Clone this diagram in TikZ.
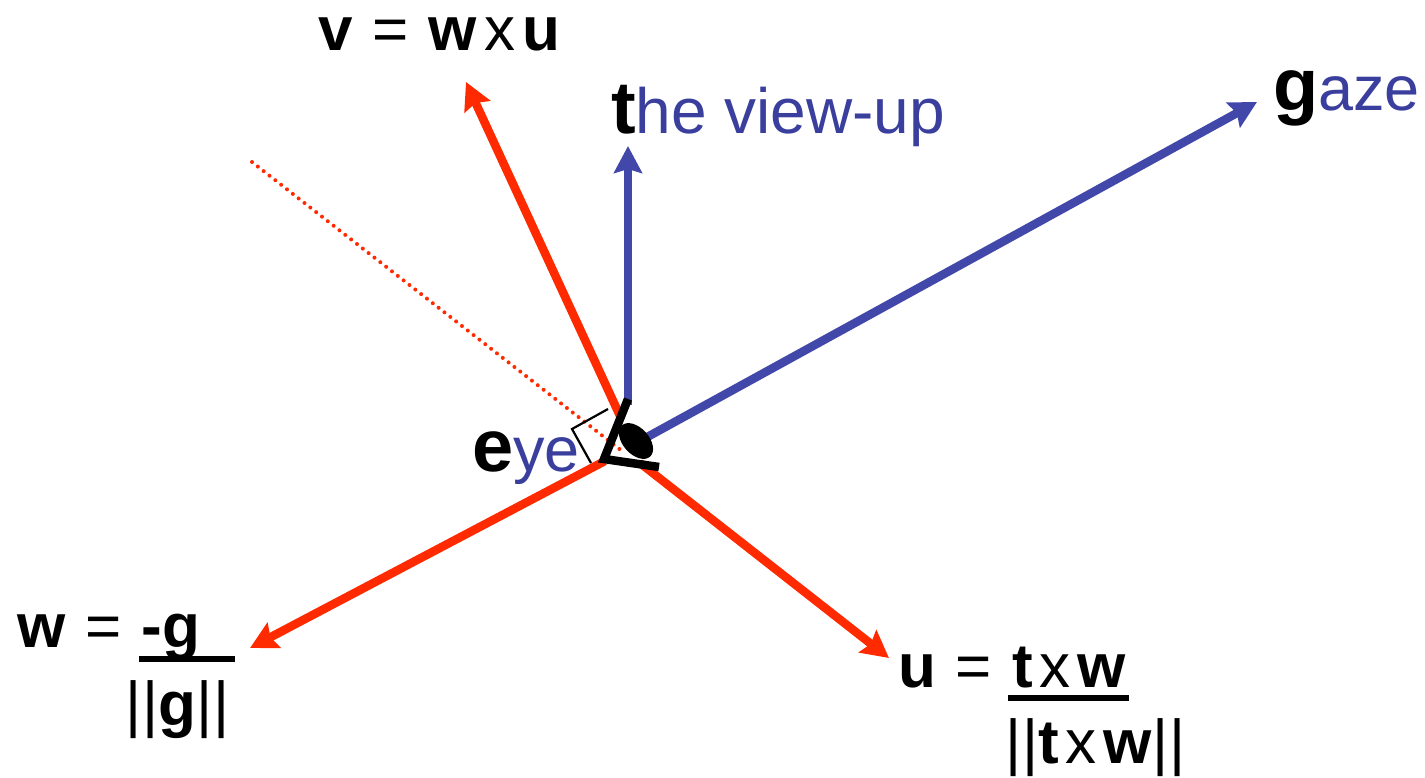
\documentclass[tikz,border=0pt]{standalone}
\usepackage{fontspec}
\setmainfont{Liberation Sans}
\usetikzlibrary{arrows.meta}
\definecolor{redv}{HTML}{FF2A00}
\definecolor{bluev}{HTML}{4148A9}
\definecolor{bluet}{HTML}{3A3F9E}
\newcommand{\fs}[1]{\fontsize{#1pt}{#1pt}\selectfont}
\newcommand{\gapw}{\hspace{20pt}}
\newcommand{\gapx}{\hspace{7pt}}
\newcommand{\dbar}{|\hspace{1pt}|}
\tikzset{
  lbl/.style={inner sep=0pt,outer sep=0pt,anchor=base west,font=\fs{62}},
  redarrow/.style={draw=redv,line width=8.5pt,-{Stealth[length=27pt,width=28pt,inset=4pt]}},
  bluearrow/.style={draw=bluev,line width=8.5pt,-{Stealth[length=27pt,width=28pt,inset=4pt]}},
  fracbar/.style={line width=5.5pt,draw=black},
  eyeline/.style={line width=8.5pt,draw=black,line join=miter},
}
\begin{document}
\begin{tikzpicture}[x=1pt,y=-1pt]
\useasboundingbox (0,0) rectangle (1425,777);
\coordinate (o) at (603,462);
\coordinate (vs) at (621,418);
\coordinate (vt) at (466,82);
\coordinate (ts) at (628,405);
\coordinate (tt) at (628,146);
\coordinate (gs) at (640,441);
\coordinate (gt) at (1257,102);
\coordinate (wt) at (250,648);
\coordinate (us) at (640,463);
\coordinate (ut) at (889,658);
\coordinate (ds) at (252,162);
\coordinate (de) at (622,451);
\coordinate (sqa) at (608,409);
\coordinate (sqb) at (572,429);
\coordinate (sqc) at (591,463);
\coordinate (eya) at (628,399);
\coordinate (eyb) at (604,459);
\coordinate (eyc) at (659,467);
\coordinate (f1a) at (139,659);
\coordinate (f1b) at (235,659);
\coordinate (f2a) at (1008,698);
\coordinate (f2b) at (1129,698);
% arrows
\draw[bluearrow] (ts) -- (tt);
\draw[bluearrow] (gs) -- (gt);
\draw[redarrow] (vs) -- (vt);
\draw[redarrow,shorten <=-2pt] (o) -- (wt);
\draw[redarrow] (us) -- (ut);
\draw[redv,line width=4pt,line cap=round,dash pattern=on 0pt off 7.4pt] (ds) -- (de);
\draw[black,line width=2.2pt] (sqa) -- (sqb) -- (sqc);
% eye
\draw[eyeline] (eya) -- (eyb) -- (eyc);
\fill[black,rotate around={-48:(636,441)}] (636,441) ellipse [x radius=21,y radius=13];
% labels
\node[lbl] (vlabel) at (318,50) {\textbf{v}\gapw=\gapw\textbf{w}\gapx x\gapx\textbf{u}};
\node[lbl] (tlabel) at (611,133) {\fs{74}\textbf{t}\textcolor{bluet}{\fs{64}he view-up}};
\node[lbl] (glabel) at (1273,110) {\fs{74}\textbf{g}\textcolor{bluet}{\fs{63}aze}};
\node[lbl] (elabel) at (472,471) {\fs{74}\textbf{e}\textcolor{bluet}{\fs{63}ye}};
\node[lbl] (wlabel) at (17,647) {\textbf{w}\gapw=\gapw\textbf{-g}};
\node[lbl] (wden) at (125,725) {\dbar\textbf{g}\dbar};
\node[lbl] (ulabel) at (898,687) {\textbf{u}\gapw=\gapw\textbf{t}\gapx x\gapx\textbf{w}};
\node[lbl] (uden) at (1005,763) {\dbar\textbf{t}\gapx x\gapx\textbf{w}\dbar};
\draw[fracbar] (f1a) -- (f1b);
\draw[fracbar] (f2a) -- (f2b);
\end{tikzpicture}
\end{document}
